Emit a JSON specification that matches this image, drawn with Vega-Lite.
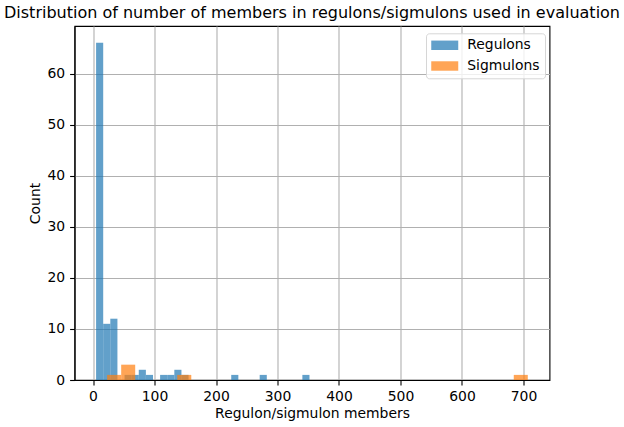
{
  "$schema": "https://vega.github.io/schema/vega-lite/v6.json",
  "autosize": {"type": "none"},
  "padding": {"left": 74.5, "top": 26, "right": 74.5, "bottom": 47},
  "width": 475,
  "height": 354,
  "title": {
    "text": "Distribution of number of members in regulons/sigmulons used in evaluation",
    "anchor": "middle",
    "frame": "group",
    "fontSize": 16,
    "fontWeight": "normal",
    "font": "DejaVu Sans",
    "color": "black",
    "baseline": "alphabetic",
    "offset": 8.3,
    "dy": 16
  },
  "data": {
    "values": [
      {"series": "Regulons", "start": 5.0, "end": 16.57, "count": 66},
      {"series": "Regulons", "start": 16.57, "end": 28.13, "count": 11},
      {"series": "Regulons", "start": 28.13, "end": 39.7, "count": 12},
      {"series": "Regulons", "start": 51.27, "end": 62.83, "count": 1},
      {"series": "Regulons", "start": 62.83, "end": 74.4, "count": 1},
      {"series": "Regulons", "start": 74.4, "end": 85.97, "count": 2},
      {"series": "Regulons", "start": 85.97, "end": 97.53, "count": 1},
      {"series": "Regulons", "start": 109.1, "end": 120.67, "count": 1},
      {"series": "Regulons", "start": 120.67, "end": 132.23, "count": 1},
      {"series": "Regulons", "start": 132.23, "end": 143.8, "count": 2},
      {"series": "Regulons", "start": 143.8, "end": 155.37, "count": 1},
      {"series": "Regulons", "start": 224.77, "end": 236.33, "count": 1},
      {"series": "Regulons", "start": 271.03, "end": 282.6, "count": 1},
      {"series": "Regulons", "start": 340.43, "end": 352.0, "count": 1},
      {"series": "Sigmulons", "start": 23.0, "end": 45.8, "count": 1},
      {"series": "Sigmulons", "start": 45.8, "end": 68.6, "count": 3},
      {"series": "Sigmulons", "start": 137.0, "end": 159.8, "count": 1},
      {"series": "Sigmulons", "start": 684.2, "end": 707.0, "count": 1}
    ]
  },
  "mark": {"type": "bar", "opacity": 0.7, "strokeWidth": 0},
  "encoding": {
    "x": {
      "field": "start",
      "type": "quantitative",
      "scale": {"domain": [-30.1, 742.3], "nice": false, "zero": false},
      "axis": {"values": [0, 100, 200, 300, 400, 500, 600, 700], "title": "Regulon/sigmulon members"}
    },
    "x2": {"field": "end"},
    "y": {
      "field": "count",
      "type": "quantitative",
      "scale": {"domain": [0, 69.3], "nice": false},
      "axis": {"values": [0, 10, 20, 30, 40, 50, 60], "title": "Count"}
    },
    "y2": {"datum": 0},
    "color": {
      "field": "series",
      "type": "nominal",
      "scale": {"domain": ["Regulons", "Sigmulons"], "range": ["#1f77b4", "#ff7f0e"]},
      "legend": {
        "title": null,
        "orient": "none",
        "legendX": 351.5,
        "legendY": 7.3,
        "padding": 5,
        "fillColor": "rgba(255,255,255,0.8)",
        "strokeColor": "#d6d6d6",
        "cornerRadius": 3,
        "symbolType": "M-2,-0.7H2V0.7H-2Z",
        "symbolSize": 182.25,
        "symbolOffset": 6.75,
        "symbolOpacity": 0.7,
        "symbolStrokeWidth": 0,
        "labelFontSize": 13.9,
        "labelFont": "DejaVu Sans",
        "labelColor": "black",
        "labelOffset": 15.5,
        "rowPadding": 6.7
      }
    }
  },
  "config": {
    "font": "DejaVu Sans",
    "view": {"stroke": "black", "strokeWidth": 1.1},
    "axis": {
      "zindex": 1,
      "domainColor": "black",
      "domainWidth": 1.1,
      "tickColor": "black",
      "tickWidth": 1.1,
      "tickSize": 4.9,
      "labelPadding": 4.9,
      "labelFontSize": 13.9,
      "labelColor": "black",
      "labelFont": "DejaVu Sans",
      "titleFont": "DejaVu Sans",
      "titleFontSize": 13.9,
      "titleFontWeight": "normal",
      "titleColor": "black",
      "grid": true,
      "gridColor": "#b0b0b0",
      "gridWidth": 1.1
    },
    "axisX": {"titlePadding": 3},
    "axisY": {"titlePadding": 5}
  }
}
